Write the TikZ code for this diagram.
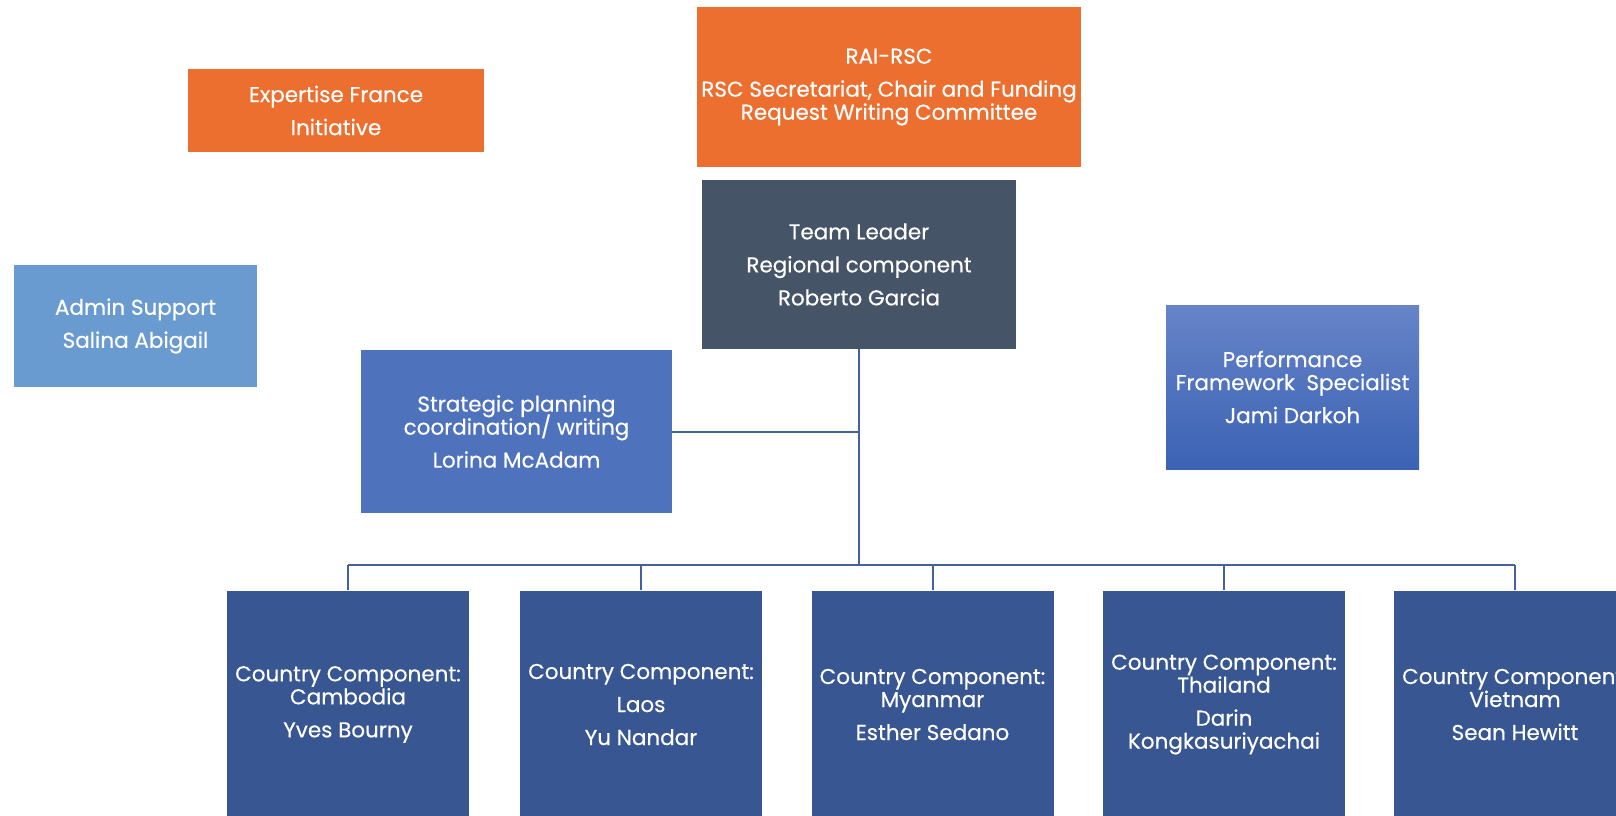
\documentclass[tikz,border=0pt]{standalone}
\usepackage{fontspec}
\setmainfont{Poppins}[FakeBold=0.4]
\AtBeginDocument{\lineskiplimit=-20pt}
\definecolor{orangebox}{HTML}{ED6F2F}
\definecolor{slatebox}{HTML}{465468}
\definecolor{adminbox}{HTML}{6A9BD0}
\definecolor{stratbox}{HTML}{4F72BD}
\definecolor{perftop}{HTML}{6784C8}
\definecolor{perfbot}{HTML}{3B62B4}
\definecolor{countrybox}{HTML}{385691}
\definecolor{connline}{HTML}{43619B}
\tikzset{
  box/.style={rectangle, inner sep=0pt, align=center, text=white,
    font=\fontsize{21.5}{23}\selectfont},
  conn/.style={draw=connline, line width=2pt},
}
\begin{document}
\begin{tikzpicture}[x=1pt,y=-1pt]
\useasboundingbox (0,0) rectangle (1616,815);
\clip (0,0) rectangle (1616,815);
\fill[white] (0,0) rectangle (1616,815);

\node[box, fill=orangebox, minimum width=296pt, minimum height=83pt] (ef) at (336,110.5)
  {Expertise France\\[10pt]Initiative};
\node[box, fill=orangebox, minimum width=384pt, minimum height=160pt] (rai) at (889,87)
  {RAI-RSC\\[10pt]RSC Secretariat, Chair and Funding\\Request Writing Committee};
\node[box, fill=slatebox, minimum width=314pt, minimum height=169pt] (tl) at (859,264.5)
  {Team Leader\\[10pt]Regional component\\[10pt]Roberto Garcia};
\node[box, fill=adminbox, minimum width=243pt, minimum height=122pt] (adm) at (135.5,326)
  {Admin Support\\[10pt]Salina Abigail};
\node[box, fill=stratbox, minimum width=311pt, minimum height=163pt] (sp) at (516.5,431.5)
  {Strategic planning\\coordination/ writing\\[10pt]Lorina McAdam};
\node[box, top color=perftop, bottom color=perfbot, minimum width=253pt, minimum height=164pt] (pf) at (1292.5,387)
  {Performance\\Framework\ \ Specialist\\[10pt]Jami Darkoh};

\node[box, fill=countrybox, minimum width=242pt, minimum height=228pt] (c1) at (348,704.5)
  {Country Component:\\Cambodia\\[10pt]Yves Bourny};
\node[box, fill=countrybox, minimum width=242pt, minimum height=228pt] (c2) at (641,704.5)
  {Country Component:\\[10pt]Laos\\[10pt]Yu Nandar};
\node[box, fill=countrybox, minimum width=242pt, minimum height=228pt] (c3) at (932.5,704.5)
  {Country Component:\\Myanmar\\[10pt]Esther Sedano};
\node[box, fill=countrybox, minimum width=242pt, minimum height=228pt] (c4) at (1224,704.5)
  {Country Component:\\Thailand\\[10pt]Darin\\Kongkasuriyachai};
\node[box, fill=countrybox, minimum width=242pt, minimum height=228pt] (c5) at (1515,704.5)
  {Country Component:\\Vietnam\\[10pt]Sean Hewitt};

\coordinate (bus) at (859,565);
\draw[conn] (tl.south) -- (bus);
\draw[conn] (sp.east) -- (sp.east -| tl.south);
\draw[conn] (c1.north |- bus) -- (c5.north |- bus);
\foreach \c in {c1,c2,c3,c4,c5} {
  \draw[conn] (\c.north) -- (\c.north |- bus);
}
\end{tikzpicture}
\end{document}
